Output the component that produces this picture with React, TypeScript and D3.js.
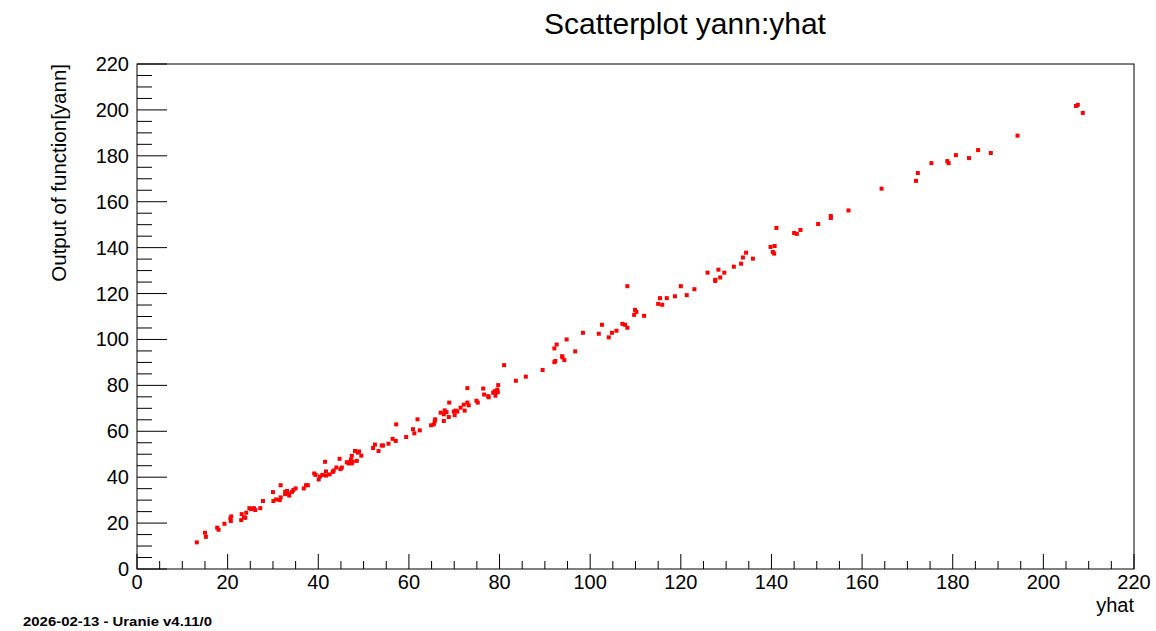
import React from "react";
import * as d3 from "d3";

const yhat: number[] = [
  13.2, 15.0, 15.2, 17.7, 18.0, 19.3, 20.7, 20.6, 20.8, 23.0, 23.1, 23.6, 23.9, 24.1, 24.8, 25.2, 25.8, 26.1, 27.2, 27.8,
  30.0, 30.1, 30.7, 31.5, 31.7, 31.7, 32.7, 32.7, 33.1, 33.3, 33.6, 34.2, 34.5, 35.0, 36.8, 37.3, 37.7,
  39.1, 39.4, 40.1, 40.4, 40.9, 41.5, 41.7, 41.7, 42.5, 43.2, 43.4, 44.0, 44.7, 44.9, 45.2, 46.3, 46.7, 47.0, 47.4, 47.6,
  47.2, 47.4, 48.1, 48.5, 48.7, 49.0, 49.5, 52.1, 52.5, 53.3, 54.0, 54.3, 55.5, 56.4, 57.1, 57.2, 59.4, 60.9, 61.2, 61.9,
  62.4, 64.9, 65.5, 65.7, 65.8, 67.0, 67.7, 67.9, 68.3, 67.7, 68.8, 68.9,
  69.9, 70.3, 70.7, 70.1, 71.4, 72.1, 72.3, 72.9, 73.2, 72.9, 74.9, 75.2, 76.4, 76.6, 77.5, 77.6, 78.6, 78.9, 79.3, 79.5,
  79.6, 79.1, 79.7, 83.6, 85.8, 89.5,
  81.0, 92.1, 92.6, 92.1, 92.3, 93.8, 93.9, 94.3, 94.8, 96.7, 98.4, 101.9, 102.6, 104.1, 104.8, 105.8, 107.1, 107.7, 108.2,
  108.2, 109.7, 109.9, 110.2, 111.9, 115.0, 115.9, 115.4, 116.9, 118.7, 120.0, 121.3, 123.0, 125.9, 127.6, 127.6, 128.3,
  128.7, 129.6, 131.7, 133.3, 133.7, 134.4, 135.9, 139.8, 140.7, 140.3, 140.6, 141.1, 145.0, 145.6, 146.4, 150.3, 153.1,
  153.1, 157.0,
  164.3, 171.9, 172.3, 175.3, 178.8, 179.1, 180.7, 183.6, 185.6, 188.4, 194.3, 207.2, 207.6, 208.7,
];

const yann: number[] = [
  11.6, 15.8, 14.0, 18.0, 17.1, 19.7, 20.9, 22.0, 22.9, 21.3, 23.9, 22.5, 22.3, 24.5, 26.5, 26.1, 26.5, 25.7, 26.5, 29.6,
  33.5, 29.6, 30.3, 30.0, 31.2, 36.5, 33.6, 32.6, 34.0, 32.9, 32.0, 33.6, 34.4, 35.1, 35.1, 36.5, 36.5,
  41.6, 41.0, 39.0, 40.3, 41.0, 46.7, 42.5, 40.7, 41.2, 42.3, 42.9, 44.2, 48.0, 43.5, 44.2, 46.5, 46.0, 46.5, 46.0, 46.8,
  47.7, 49.3, 51.4, 47.1, 50.7, 51.2, 49.4, 52.7, 54.2, 51.4, 53.8, 53.8, 54.6, 56.7, 55.8, 63.0, 57.5, 60.9, 59.1, 65.2,
  60.4, 62.6, 63.0, 64.3, 65.2, 68.1, 67.4, 69.1, 68.3, 64.5, 66.2, 72.5,
  68.6, 69.0, 68.6, 67.0, 70.3, 71.6, 69.0, 72.5, 71.3, 78.8, 73.3, 72.5, 78.6, 76.0, 75.3, 74.8, 76.8, 77.4, 77.5, 78.1,
  77.0, 75.5, 80.1, 82.0, 83.8, 86.7,
  88.8, 96.1, 97.8, 90.1, 90.6, 92.7, 92.2, 91.0, 100.0, 94.8, 102.9, 102.5, 106.4, 100.9, 102.9, 103.8, 106.8, 106.4, 105.1,
  123.2, 110.7, 112.9, 112.0, 110.3, 115.5, 115.1, 118.0, 118.0, 118.8, 123.2, 119.3, 121.9, 129.1, 126.0, 125.5, 130.4,
  127.0, 129.1, 131.7, 133.0, 135.7, 137.8, 135.2, 140.3, 140.7, 138.1, 137.4, 148.6, 146.4, 146.0, 147.7, 150.3, 153.8,
  152.9, 156.2,
  165.7, 169.1, 172.5, 176.8, 177.7, 176.8, 180.3, 179.0, 182.5, 181.2, 188.8, 201.7, 202.2, 198.7,
];

const majorTicks: number[] = [0, 20, 40, 60, 80, 100, 120, 140, 160, 180, 200, 220];
const minorTicks: number[] = d3.range(0, 221, 5);

const title = "Scatterplot yann:yhat";
const xTitle = "yhat";
const yTitle = "Output of function[yann]";
const footer = "2026-02-13 - Uranie v4.11/0";

const W = 1156;
const H = 631;
const left = 137;
const right = 1134;
const top = 64;
const bottom = 569;
const font = "'Liberation Sans', Arial, Helvetica, sans-serif";

export default function App() {
  const x = d3.scaleLinear().domain([0, 220]).range([left, right]);
  const y = d3.scaleLinear().domain([0, 220]).range([bottom, top]);
  const points = d3.zip(yhat, yann);

  return (
    <svg
      width={W}
      height={H}
      style={{ position: "absolute", left: 0, top: 0, background: "#fff" }}
      fontFamily={font}
    >
      <rect x={0} y={0} width={W} height={H} fill="#fff" />
      <text x={685} y={34} fontSize={30} textAnchor="middle" fill="#000">
        {title}
      </text>

      {/* frame */}
      <rect x={left} y={top} width={right - left} height={bottom - top} fill="none" stroke="#000" strokeWidth={1} />

      {/* x axis ticks */}
      {minorTicks.map((t) => {
        const major = t % 20 === 0;
        return (
          <line
            key={"xt" + t}
            x1={x(t)}
            x2={x(t)}
            y1={bottom}
            y2={bottom - (major ? 15 : 8)}
            stroke="#000"
            strokeWidth={1}
          />
        );
      })}
      {majorTicks.map((t) => (
        <text key={"xl" + t} x={x(t)} y={589} fontSize={20} textAnchor="middle" fill="#000">
          {t}
        </text>
      ))}

      {/* y axis ticks */}
      {minorTicks.map((t) => {
        const major = t % 20 === 0;
        return (
          <line
            key={"yt" + t}
            x1={left}
            x2={left + (major ? 30 : 15)}
            y1={y(t)}
            y2={y(t)}
            stroke="#000"
            strokeWidth={1}
          />
        );
      })}
      {majorTicks.map((t) => (
        <text key={"yl" + t} x={129} y={y(t) + 7} fontSize={20} textAnchor="end" fill="#000">
          {t}
        </text>
      ))}

      {/* axis titles */}
      <text x={right} y={612} fontSize={20} textAnchor="end" fill="#000">
        {xTitle}
      </text>
      <text
        transform={`translate(66,${top}) rotate(-90)`}
        fontSize={20.5}
        textAnchor="end"
        fill="#000"
      >
        {yTitle}
      </text>

      {/* points */}
      {points.map(([a, b], i) => (
        <rect key={"p" + i} x={x(a) - 2} y={y(b) - 2} width={4} height={4} fill="#ff0000" />
      ))}

      <text x={23} y={626} fontSize={13.5} fontWeight="bold" fill="#000" textLength={189} lengthAdjust="spacingAndGlyphs">
        {footer}
      </text>
    </svg>
  );
}
